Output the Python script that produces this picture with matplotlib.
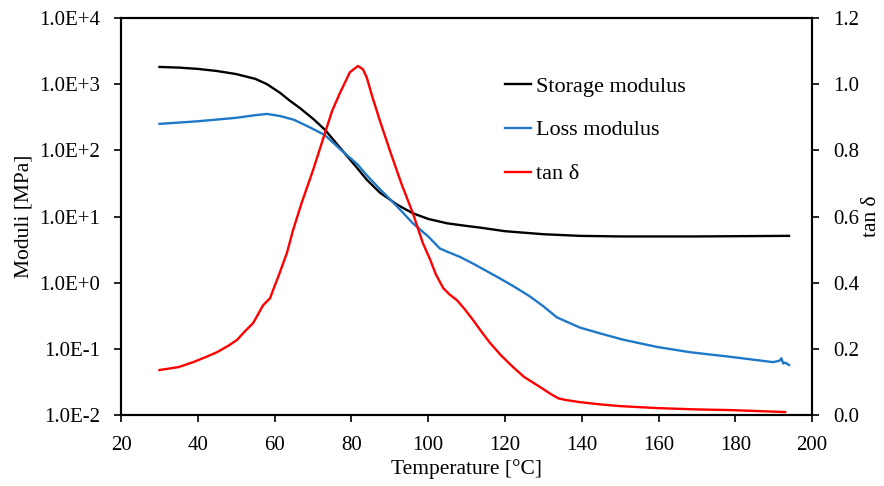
import matplotlib
matplotlib.use("Agg")
import matplotlib.pyplot as plt
from matplotlib.ticker import FixedLocator, FuncFormatter, NullLocator
import numpy as np

plt.rcParams['font.family'] = ['Liberation Serif', 'DejaVu Serif']
plt.rcParams['font.size'] = 15

# storage modulus E' [MPa]
temp_storage = [30, 35, 40, 45, 50, 55, 58, 61.4, 64, 66.6, 70, 73.1, 77, 81.5, 84,
                87.4, 92, 96, 100, 104.9, 110, 113.5, 120, 130, 139.5, 150, 170, 194]
storage = [1820, 1780, 1700, 1580, 1420, 1200, 1000, 740, 560, 435, 300, 205, 110, 54, 36,
           23, 15, 11.2, 9.2, 7.9, 7.2, 6.8, 6.0, 5.4, 5.1, 5.0, 5.0, 5.1]

# loss modulus E'' [MPa]
temp_loss = [30, 40, 50, 55, 58, 61.4, 65, 69, 73.1, 77, 81.5, 84, 87.4, 92, 96, 100,
             103, 104.9, 108.3, 112, 117.9, 122, 126.5, 130, 133.5, 139.5, 145, 150.7,
             159.6, 168.2, 178.6, 189.8, 191.5, 192, 192.5, 193, 194]
loss = [251, 275, 310, 340, 355, 330, 290, 225, 170, 105, 62, 42, 26, 14, 7.9, 5.0,
        3.3, 2.95, 2.45, 1.9, 1.23, 0.9, 0.62, 0.44, 0.30, 0.21, 0.17, 0.138,
        0.107, 0.089, 0.076, 0.063, 0.066, 0.072, 0.060, 0.062, 0.057]

# tan delta
temp_tan = [30, 35, 38.8, 42, 45, 48, 50.2, 52, 54.4, 57, 58.8, 59.6, 61, 63.2, 64.8,
            67, 70, 73.1, 75, 77, 79.6, 81.7, 83, 84, 85.5, 87.4, 90, 93, 96, 98.6,
            100.5, 102, 103.9, 105.5, 107.5, 109.5, 111.7, 114, 116.1, 119, 122.1, 125,
            129.1, 132, 134, 136.1, 139.5, 145, 150, 159.6, 170, 178.6, 186, 193]
tan_delta = [0.136, 0.145, 0.16, 0.175, 0.19, 0.21, 0.227, 0.25, 0.278, 0.332, 0.353,
             0.378, 0.42, 0.49, 0.559, 0.64, 0.74, 0.852, 0.92, 0.973, 1.036, 1.055,
             1.045, 1.02, 0.96, 0.89, 0.80, 0.70, 0.61, 0.52, 0.47, 0.425, 0.384, 0.365,
             0.347, 0.32, 0.287, 0.25, 0.218, 0.18, 0.145, 0.115, 0.085, 0.063, 0.05,
             0.045, 0.039, 0.032, 0.027, 0.021, 0.017, 0.015, 0.012, 0.009]

x_ticks = [20, 40, 60, 80, 100, 120, 140, 160, 180, 200]
mod_ticks = [1e-2, 1e-1, 1e0, 1e1, 1e2, 1e3, 1e4]
tan_ticks = [0.0, 0.2, 0.4, 0.6, 0.8, 1.0, 1.2]

fig = plt.figure(figsize=(8.84, 4.86), dpi=100)
ax = fig.add_axes([0.137, 0.146, 0.7816, 0.817])
ax2 = ax.twinx()

l1, = ax.plot(temp_storage, storage, color='black', lw=1.7, label='Storage modulus')
l2, = ax.plot(temp_loss, loss, color='#1f78c8', lw=1.7, label='Loss modulus')
l3, = ax2.plot(temp_tan, tan_delta, color='#ff0000', lw=1.7, label='tan δ')

ax.set_yscale('log')
ax.set_xlim(20, 200)
ax.set_ylim(1e-2, 1e4)
ax2.set_ylim(0, 1.2)

ax.xaxis.set_major_locator(FixedLocator(x_ticks))
ax.yaxis.set_major_locator(FixedLocator(mod_ticks))
ax.yaxis.set_minor_locator(NullLocator())
ax.yaxis.set_major_formatter(FuncFormatter(lambda v, p: "1.0E%+d" % int(round(np.log10(v)))))
ax2.yaxis.set_major_locator(FixedLocator(tan_ticks))
ax2.yaxis.set_major_formatter(FuncFormatter(lambda v, p: "%.1f" % v))

for a in (ax, ax2):
    for s in a.spines.values():
        s.set_linewidth(1.5)
    a.tick_params(direction='out', length=5, width=1.2, labelsize=15, pad=10)

ax.set_xlabel('Temperature [°C]', fontsize=15.5, labelpad=3)
ax.set_ylabel('Moduli [MPa]', fontsize=15.5, labelpad=4)
ax2.set_ylabel('tan δ', fontsize=15.5, labelpad=2)

ax2.legend(handles=[l1, l2, l3], loc='upper left', bbox_to_anchor=(0.5615, 0.862),
           bbox_transform=fig.transFigure, frameon=False, fontsize=16,
           handlelength=1.15, handletextpad=0.25, labelspacing=1.05, borderaxespad=0)

fig.savefig('out.png', dpi=100)
